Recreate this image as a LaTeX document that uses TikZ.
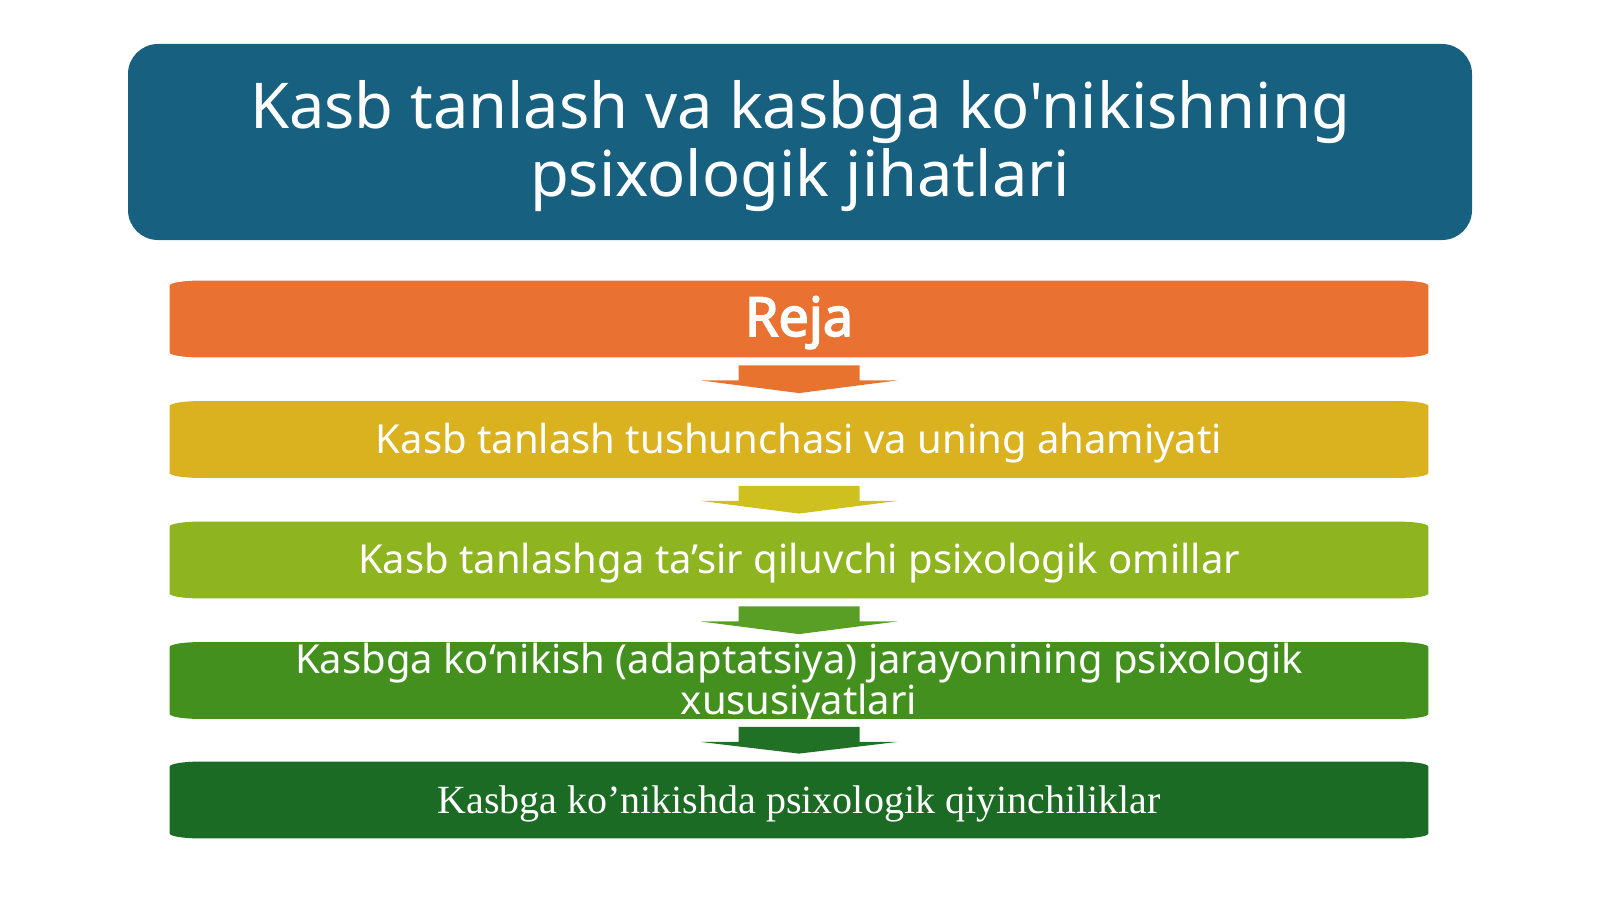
\documentclass[tikz,border=0pt]{standalone}
\usepackage{fontspec}
\setmainfont{Noto Sans}[Ligatures=TeXOff]
\newfontfamily\boldx{Noto Sans}[Ligatures=TeXOff,FakeBold=3]
\newfontfamily\serifx{Liberation Serif}[Ligatures=TeXOff]
\usetikzlibrary{calc,backgrounds}
\definecolor{titlecol}{HTML}{17607F}
\definecolor{c1}{HTML}{E97132}
\definecolor{c2}{HTML}{DAB21F}
\definecolor{c3}{HTML}{8EB420}
\definecolor{c4}{HTML}{43901F}
\definecolor{c5}{HTML}{1B6B24}
\definecolor{a1}{HTML}{E8732F}
\definecolor{a2}{HTML}{CEC11F}
\definecolor{a3}{HTML}{5A9F25}
\definecolor{a4}{HTML}{207025}
\newcommand\barfill[2]{%
  \fill[#2] ([xshift=15pt]#1.north west) -- ([xshift=-15pt]#1.north east)
    .. controls +(8.28pt,0) and +(0,1.38pt) .. ([yshift=-2.5pt]#1.north east)
    -- ([yshift=2.5pt]#1.south east)
    .. controls +(0,-1.38pt) and +(8.28pt,0) .. ([xshift=-15pt]#1.south east)
    -- ([xshift=15pt]#1.south west)
    .. controls +(-8.28pt,0) and +(0,-1.38pt) .. ([yshift=2.5pt]#1.south west)
    -- ([yshift=-2.5pt]#1.north west)
    .. controls +(0,1.38pt) and +(-8.28pt,0) .. ([xshift=15pt]#1.north west) -- cycle;}
\newcommand\flowarrow[3]{%
  \fill[#3] ($(#1.south)+(-30.25pt,-4pt)$) -- ($(#1.south)+(30.25pt,-4pt)$)
    -- ($(#1.south)+(30.25pt,-11.5pt)$) -- ($(#1.south)+(49.25pt,-11.5pt)$)
    -- ($(#2.north)+(0,4pt)$)
    -- ($(#1.south)+(-49.25pt,-11.5pt)$) -- ($(#1.south)+(-30.25pt,-11.5pt)$) -- cycle;}
\tikzset{
  titlebox/.style={fill=titlecol, rounded corners=15pt, minimum width=672pt, minimum height=98pt,
    inner sep=0pt},
  titletext/.style={inner sep=0pt, text=white, align=center, font=\fontsize{31.6}{34}\selectfont},
  barbox/.style={minimum width=629pt, minimum height=38pt, inner sep=0pt, text=white,
    align=center, font=\fontsize{20}{20.5}\selectfont},
  bartext/.style={inner sep=0pt, text=white, align=center, font=\fontsize{20}{20.5}\selectfont}
}
\begin{document}
\begin{tikzpicture}[x=0.5pt,y=-0.5pt]
\useasboundingbox (0,0) rectangle (1600,899);
\node[titlebox] (title) at (800,142) {};
\node[titletext] (titletext) at (800,146.5) {Kasb tanlash va kasbga ko'nikishning\\psixologik jihatlari};
\node[barbox, font=\boldx\fontsize{27}{28}\selectfont, text height=17pt, text depth=0pt] (b1) at (799,319) {Reja};
\node[barbox, text height=13.5pt, text depth=0pt] (b2) at (799,439.5) {Kasb tanlash tushunchasi va uning ahamiyati};
\node[barbox, text height=13pt, text depth=0pt] (b3) at (799,560) {Kasb tanlashga ta’sir qiluvchi psixologik omillar};
\node[barbox] (b4) at (799,680.5) {};
\node[bartext] (t4) at (799,684) {Kasbga ko‘nikish (adaptatsiya) jarayonining psixologik\\xususiyatlari};
\node[barbox, font=\serifx\fontsize{20}{20.5}\selectfont, text height=13pt, text depth=0pt] (b5) at (799,800) {Kasbga ko’nikishda psixologik qiyinchiliklar};
\begin{scope}[on background layer]
\barfill{b1}{c1}
\barfill{b2}{c2}
\barfill{b3}{c3}
\barfill{b4}{c4}
\barfill{b5}{c5}
\flowarrow{b1}{b2}{a1}
\flowarrow{b2}{b3}{a2}
\flowarrow{b3}{b4}{a3}
\flowarrow{b4}{b5}{a4}
\end{scope}
\end{tikzpicture}
\end{document}
